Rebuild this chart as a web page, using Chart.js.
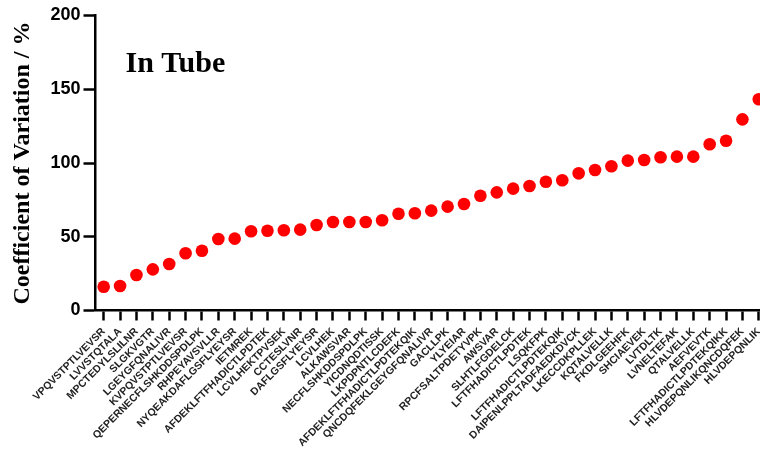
<!DOCTYPE html>
<html>
<head>
<meta charset="utf-8">
<script src="https://cdn.jsdelivr.net/npm/chart.js@4/dist/chart.umd.min.js"></script>
<style>
  html, body { margin: 0; padding: 0; background: #fff; }
  /* the plot runs a few pixels past the right edge of the frame */
  #wrap { width: 760px; height: 453px; overflow: hidden; position: relative; }
  #cv { display: block; width: 767px; height: 453px; }
</style>
</head>
<body>
<div id="wrap"><canvas id="cv" width="767" height="453"></canvas></div>
<script>
// Peptides, ordered by their coefficient of variation
const peptides = [
  'VPQVSTPTLVEVSR', 'LVVSTQTALA', 'MPCTEDYLSLILNR', 'SLGKVGTR', 'LGEYGFQNALIVR',
  'KVPQVSTPTLVEVSR', 'QEPERNECFLSHKDDSPDLPK', 'RHPEYAVSVLLR', 'NYQEAKDAFLGSFLYEYSR', 'IETMREK',
  'AFDEKLFTFHADICTLPDTEK', 'LCVLHEKTPVSEK', 'CCTESLVNR', 'DAFLGSFLYEYSR', 'LCVLHEK',
  'ALKAWSVAR', 'NECFLSHKDDSPDLPK', 'YICDNQDTISSK', 'LKPDPNTLCDEFK', 'AFDEKLFTFHADICTLPDTEKQIK',
  'QNCDQFEKLGEYGFQNALIVR', 'GACLLPK', 'YLYEIAR', 'RPCFSALTPDETYVPK', 'AWSVAR',
  'SLHTLFGDELCK', 'LFTFHADICTLPDTEK', 'LSQKFPK', 'LFTFHADICTLPDTEKQIK', 'DAIPENLPPLTADFAEDKDVCK',
  'LKECCDKPLLEK', 'KQTALVELLK', 'FKDLGEEHFK', 'SHCIAEVEK', 'LVTDLTK',
  'LVNELTEFAK', 'QTALVELLK', 'AEFVEVTK', 'LFTFHADICTLPDTEKQIKK', 'HLVDEPQNLIKQNCDQFEK',
  'HLVDEPQNLIK'
];

// Coefficient of variation (%) for each peptide
const cvValues = [
  16.1, 16.6, 24.1, 27.9, 31.5, 38.8, 40.5, 48.5, 48.7, 53.7,
  54.1, 54.4, 54.8, 58.0, 60.0, 60.0, 60.0, 61.2, 65.6, 65.9,
  67.7, 70.4, 72.2, 77.8, 80.1, 82.6, 84.4, 87.3, 88.3, 93.0,
  95.3, 97.8, 101.6, 102.0, 103.9, 104.3, 104.3, 112.7, 115.1, 129.6,
  143.2
];

const yTicks = [0, 50, 100, 150, 200];
const panelTitle = 'In Tube';
const yTitle = 'Coefficient of Variation / %';

const SANS = "'Liberation Sans', Arial, sans-serif";
const SERIF = "'Liberation Serif', 'Times New Roman', serif";

// Panel caption inside the plot area
const captionPlugin = {
  id: 'caption',
  afterDraw(chart) {
    const { ctx, chartArea } = chart;
    ctx.save();
    ctx.fillStyle = '#000';
    ctx.font = 'bold 30px ' + SERIF;
    ctx.textAlign = 'left';
    ctx.textBaseline = 'alphabetic';
    ctx.fillText(panelTitle, chartArea.left + 30, chartArea.top + 56);
    ctx.restore();
  }
};

new Chart(document.getElementById('cv'), {
  type: 'line',
  data: {
    labels: peptides,
    datasets: [{
      data: cvValues,
      showLine: false,
      pointRadius: 6.3,
      pointHoverRadius: 6.3,
      pointBackgroundColor: '#ff0000',
      pointBorderWidth: 0,
      borderColor: '#ff0000',
      clip: false
    }]
  },
  options: {
    responsive: false,
    animation: false,
    layout: { autoPadding: false, padding: { top: 15.5, left: 0, right: 0, bottom: 0 } },
    plugins: { legend: { display: false }, tooltip: { enabled: false } },
    scales: {
      x: {
        offset: true,
        border: { display: true, color: '#000', width: 2.5 },
        grid: {
          drawOnChartArea: false, drawTicks: true,
          tickLength: 10, tickWidth: 2.5, tickColor: '#000', offset: false
        },
        ticks: {
          autoSkip: false, minRotation: 45, maxRotation: 45,
          color: '#222', padding: 5,
          font: { family: SANS, size: 10.5, weight: 'bold' }
        },
        afterFit(scale) {
          scale.height = 453 - 310.5;
          scale.paddingLeft = 0;
          scale.paddingRight = 0;
        }
      },
      y: {
        min: 0, max: 200,
        afterBuildTicks(scale) { scale.ticks = yTicks.map(v => ({ value: v })); },
        border: { display: true, color: '#000', width: 2.5 },
        grid: {
          drawOnChartArea: false, drawTicks: true,
          tickLength: 12, tickWidth: 2.5, tickColor: '#000'
        },
        ticks: {
          color: '#000', padding: 3,
          font: { family: SANS, size: 18, weight: 'bold' }
        },
        title: {
          display: true, text: yTitle, color: '#000',
          padding: { top: 8, bottom: 0 },
          font: { family: SERIF, size: 24, weight: 'bold' }
        },
        afterFit(scale) {
          scale.width = 95.5;
          scale.paddingTop = 0;
          scale.paddingBottom = 0;
        }
      }
    }
  },
  plugins: [captionPlugin]
});
</script>
</body>
</html>
